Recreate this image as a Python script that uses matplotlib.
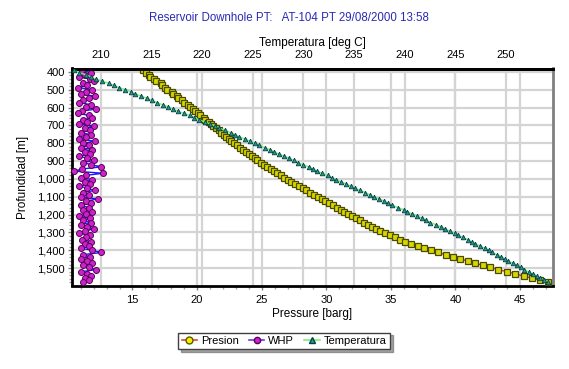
import matplotlib
matplotlib.use("Agg")
import matplotlib.pyplot as plt
from matplotlib.ticker import MultipleLocator, FuncFormatter
from matplotlib.transforms import blended_transform_factory
from matplotlib.lines import Line2D

plt.rcParams['font.family'] = ['Liberation Sans', 'DejaVu Sans']

# ---------------- data ----------------
depth = [392, 404, 416, 428, 440, 452, 464, 476, 488, 500,
         512, 524, 536, 548, 560, 572, 584, 596, 608, 620,
         632, 644, 656, 668, 680, 692, 704, 716, 728, 740,
         752, 764, 776, 788, 800, 812, 824, 836, 848, 860,
         872, 884, 896, 908, 920, 932, 944, 956, 968, 980,
         992, 1004, 1016, 1028, 1040, 1052, 1064, 1076, 1088, 1100,
         1112, 1124, 1136, 1148, 1160, 1172, 1184, 1196, 1208, 1220,
         1232, 1244, 1256, 1268, 1280, 1292, 1304, 1316, 1328, 1340,
         1352, 1364, 1376, 1388, 1400, 1412, 1424, 1436, 1448, 1460,
         1472, 1484, 1496, 1508, 1520, 1532, 1544, 1556, 1568, 1580]

presion = [15.80, 16.05, 16.30, 16.35, 16.70, 16.80, 17.20, 17.25, 17.55, 17.65,
           18.05, 18.10, 18.45, 18.55, 18.85, 19.00, 19.30, 19.45, 19.70, 19.85,
           20.10, 20.25, 20.50, 20.65, 20.90, 21.05, 21.27, 21.46, 21.66, 21.86,
           22.06, 22.26, 22.45, 22.65, 22.85, 23.08, 23.31, 23.53, 23.76, 23.99,
           24.22, 24.45, 24.67, 24.92, 25.18, 25.44, 25.70, 25.95, 26.21, 26.47,
           26.73, 27.00, 27.29, 27.59, 27.88, 28.17, 28.47, 28.76, 29.06, 29.35,
           29.64, 29.94, 30.23, 30.53, 30.82, 31.11, 31.41, 31.70, 32.01, 32.32,
           32.63, 32.94, 33.26, 33.57, 33.88, 34.19, 34.53, 34.91, 35.30, 35.68,
           36.08, 36.59, 37.09, 37.60, 38.10, 38.66, 39.23, 39.79, 40.36, 40.94,
           41.53, 42.12, 42.70, 43.33, 43.98, 44.63, 45.28, 45.92, 46.56, 47.20]

whp = [11.1, 11.8, 11.3, 10.9, 11.7, 12.0, 11.2, 11.5, 10.8, 11.9,
       11.4, 11.0, 12.1, 11.6, 11.2, 10.9, 11.8, 11.4, 12.2, 11.1,
       10.8, 11.6, 11.9, 11.2, 11.5, 10.9, 12.0, 11.3, 11.7, 11.0,
       11.8, 11.4, 10.9, 12.1, 11.2, 11.6, 11.0, 11.9, 11.3, 11.7,
       10.9, 11.5, 12.0, 11.2, 11.8, 12.6, 11.1, 10.5, 12.7, 11.4,
       11.0, 11.9, 11.3, 11.7, 10.9, 11.5, 12.1, 11.2, 11.6, 11.0,
       12.3, 11.4, 11.8, 11.0, 11.6, 11.2, 11.9, 11.4, 10.9, 11.7,
       11.2, 11.8, 11.0, 11.5, 12.0, 11.3, 10.9, 11.7, 11.4, 11.1,
       11.8, 11.3, 11.6, 11.0, 11.9, 12.6, 11.2, 11.7, 11.0, 11.5,
       11.9, 11.2, 11.6, 12.2, 11.0, 11.5, 11.8, 11.3, 11.6, 11.2]

temperatura = [207.30, 207.87, 208.50, 209.00, 209.50, 210.13, 210.75, 211.27, 211.80, 212.40,
               212.95, 213.40, 213.98, 214.55, 215.04, 215.50, 216.10, 216.65, 217.14, 217.60,
               218.18, 218.75, 219.21, 219.65, 220.24, 220.80, 221.26, 221.70, 222.25, 222.80,
               223.23, 223.65, 224.22, 224.75, 225.20, 225.60, 226.16, 226.70, 227.12, 227.55,
               228.08, 228.60, 229.04, 229.45, 229.98, 230.50, 230.92, 231.30, 231.85, 232.40,
               232.79, 233.20, 233.72, 234.25, 234.66, 235.05, 235.60, 236.12, 236.53, 236.95,
               237.47, 238.00, 238.40, 238.80, 239.34, 239.90, 240.28, 240.70, 241.21, 241.75,
               242.15, 242.55, 243.08, 243.60, 244.02, 244.45, 244.94, 245.30, 245.78, 246.25,
               246.62, 247.00, 247.46, 247.95, 248.30, 248.65, 249.09, 249.55, 249.88, 250.22,
               250.68, 251.15, 251.47, 251.80, 252.25, 252.70, 253.03, 253.35, 253.81, 254.20]

p_ticks = [15, 20, 25, 30, 35, 40, 45]
t_ticks = [210, 215, 220, 225, 230, 235, 240, 245, 250]
d_ticks = [400, 500, 600, 700, 800, 900, 1000, 1100, 1200, 1300, 1400, 1500]

# ---------------- figure ----------------
W, H = 569, 369
fig = plt.figure(figsize=(W / 100, H / 100), dpi=100)
L, R, T, B = 72, 553, 68.5, 285.5
ax = fig.add_axes([L / W, 1 - B / H, (R - L) / W, (B - T) / H])
ax2 = ax.twiny()

ax.set_xlim(10.32, 47.55)
ax.set_ylim(1597, 381)
ax2.set_xlim(207.13, 254.66)

grid_c = '#d4d4d4'
for d in d_ticks:
    ax.axhline(d, color=grid_c, lw=1.6, zorder=0)
for p in p_ticks:
    ax.axvline(p, color=grid_c, lw=1.6, zorder=0)
tr = blended_transform_factory(ax2.transData, ax.transAxes)
for t in t_ticks:
    ax.plot([t, t], [0, 1], transform=tr, color=grid_c, lw=1.6, zorder=0)

# data
ax.plot(presion, depth, color='#cc3333', lw=1, marker='s', markersize=4.8,
        markerfacecolor='#d8d800', markeredgecolor='#4a4a00', markeredgewidth=0.9,
        zorder=3)
ax.plot(whp, depth, color='#1a1aff', lw=1.0, marker='o', markersize=4.3,
        markerfacecolor='#cc22cc', markeredgecolor='#5a005a', markeredgewidth=0.7,
        zorder=4)
ax2.plot(temperatura, depth, color='#7cf07c', lw=1.0, marker='^', markersize=3.3,
         markerfacecolor='#1a9a9a', markeredgecolor='#0a3c3c', markeredgewidth=0.6,
         zorder=5)
ax2.set_ylim(1597, 381)
ax2.patch.set_visible(False)

# ticks
tick_fs = 8
ax.set_xticks(p_ticks)
ax.xaxis.set_minor_locator(MultipleLocator(1))
ax.set_yticks(d_ticks)
ax.yaxis.set_minor_locator(MultipleLocator(20))
ax.yaxis.set_major_formatter(FuncFormatter(lambda v, pos: f"{int(v):,}"))
ax.tick_params(axis='both', which='major', labelsize=tick_fs, length=3,
               width=1, color='#808080', direction='out', pad=2)
ax.tick_params(axis='both', which='minor', length=2.5, width=1, color='#a0a0a0',
               direction='out')
ax.tick_params(axis='x', which='major', pad=4)
ax2.set_xticks(t_ticks)
ax2.tick_params(axis='x', which='major', labelsize=tick_fs, length=0, pad=6)

# spines
for s in ['left', 'bottom', 'top']:
    ax.spines[s].set_linewidth(2)
    ax.spines[s].set_color('black')
ax.spines['right'].set_linewidth(2)
ax.spines['right'].set_color('#808080')
for s in ['left', 'bottom', 'right']:
    ax2.spines[s].set_visible(False)
ax2.spines['top'].set_linewidth(2)
ax2.spines['top'].set_color('black')

# labels
ax.set_xlabel('Pressure [barg]', fontsize=8.5, labelpad=2)
ax2.set_xlabel('Temperatura [deg C]', fontsize=8.5, labelpad=3)
ax.set_ylabel('Profundidad [m]', fontsize=8.5, labelpad=6)
fig.text(0.507, 1 - 18 / H, 'Reservoir Downhole PT:   AT-104 PT 29/08/2000 13:58',
         ha='center', va='center', fontsize=8.3, color='#2a2ab4')

# legend
handles = [
    Line2D([], [], color='#dd4444', lw=1.2, marker='o', markersize=5,
           markerfacecolor='#f0f000', markeredgecolor='#5a5a00'),
    Line2D([], [], color='#6a3ae0', lw=1.2, marker='o', markersize=4.5,
           markerfacecolor='#cc22cc', markeredgecolor='#5a005a'),
    Line2D([], [], color='#7cf07c', lw=1.2, marker='^', markersize=4.5,
           markerfacecolor='#1aa0a0', markeredgecolor='#0a4040'),
]
leg = fig.legend(handles, ['Presion', 'WHP', 'Temperatura'], loc='center',
                 bbox_to_anchor=(284 / W, 1 - 341 / H), ncol=3, fontsize=8,
                 frameon=True, fancybox=False, shadow=True, handlelength=1.4,
                 handletextpad=0.35, columnspacing=0.9, borderpad=0.3)
leg.get_frame().set_edgecolor('#404040')
leg.get_frame().set_linewidth(1.0)

fig.savefig('out.png', dpi=100)
